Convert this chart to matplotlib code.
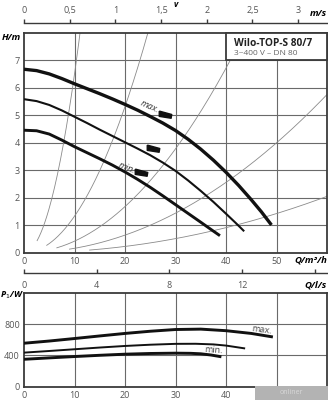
import numpy as np
import matplotlib
matplotlib.use("Agg")
import matplotlib.pyplot as plt
from matplotlib.patches import Rectangle

plt.rcParams['font.family'] = ['Open Sans', 'DejaVu Sans']

# ---------------- data ----------------
# pump curves H(Q)
q_max = [0, 2.5, 5, 7.5, 10, 12.5, 15, 17.5, 20, 22.5, 25, 27.5, 30, 32.5, 35,
         37.5, 40, 42.5, 45, 47, 49]
h_max = [6.68, 6.63, 6.51, 6.34, 6.15, 5.97, 5.79, 5.60, 5.40, 5.19, 4.96, 4.72,
         4.45, 4.13, 3.77, 3.37, 2.93, 2.45, 1.93, 1.49, 1.01]
q_mid = [0, 2.5, 5, 7.5, 10, 12.5, 15, 17.5, 20, 22.5, 25, 27.5, 30, 32.5, 35,
         37.5, 40, 42, 43.6]
h_mid = [5.59, 5.52, 5.38, 5.18, 4.95, 4.72, 4.48, 4.25, 4.02, 3.79, 3.55, 3.28,
         2.98, 2.63, 2.25, 1.85, 1.42, 1.07, 0.78]
q_min = [0, 2.5, 5, 7.5, 10, 12.5, 15, 17.5, 20, 22.5, 25, 27.5, 30, 32.5, 35,
         37, 38.8]
h_min = [4.46, 4.44, 4.32, 4.10, 3.86, 3.64, 3.42, 3.19, 2.94, 2.67, 2.38, 2.07,
         1.75, 1.43, 1.11, 0.85, 0.62]

# power curves P1(Q)
pq_max = [0, 5, 10, 15, 20, 25, 30, 35, 40, 45, 49]
p_max = [555, 583, 615, 648, 680, 708, 730, 735, 715, 680, 638]
pq_mid = [0, 5, 10, 15, 20, 25, 30, 34, 37.5, 40, 43.6]
p_mid = [435, 456, 478, 500, 520, 536, 547, 548, 540, 525, 490]
pq_min = [0, 5, 10, 15, 20, 25, 30, 33, 35, 37, 38.8]
p_min = [350, 368, 385, 401, 415, 424, 428, 426, 420, 405, 385]

# thin system curves H = k*Q^2 (k and starting flow)
sys_k = [0.065, 0.0133, 0.0042, 0.0016, 0.00057]
sys_q0 = [2.6, 4.5, 6.5, 9.0, 13.0]

# speed-setting markers
mark_q = [27.9, 25.5, 23.2]
mark_h = [5.05, 3.80, 2.95]

q_ticks = [0, 10, 20, 30, 40, 50]
p_q_ticks = [0, 10, 20, 30, 40]
h_ticks = [0, 1, 2, 3, 4, 5, 6, 7]
p_ticks = [0, 400, 800]
v_ticks = [0, 0.5, 1, 1.5, 2, 2.5, 3]
v_labels = ['0', '0,5', '1', '1,5', '2', '2,5', '3']
ls_ticks = [0, 4, 8, 12, 16]
ls_labels = ['0', '4', '8', '12', '']

title1 = 'Wilo-TOP-S 80/7'
title2 = '3~400 V – DN 80'

# ---------------- figure ----------------
W_PX, H_PX = 328, 400
fig = plt.figure(figsize=(W_PX / 100, H_PX / 100), dpi=100)

def fx(px):
    return px / W_PX

def fy(py):
    return 1 - py / H_PX

L = fx(24)
WID = fx(303)
ax = fig.add_axes([L, fy(252.7), WID, (252.7 - 33) / H_PX])
ax2 = fig.add_axes([L, fy(386.7), WID, (386.7 - 292.7) / H_PX])

GRID = '#6a6a6a'
SPINE = '#3a3a3a'
TICKC = '#555555'
FS = 6.5

for a in (ax, ax2):
    a.set_xlim(0, 60)
    for s in a.spines.values():
        s.set_color(SPINE)
        s.set_linewidth(1.3)
    a.tick_params(length=0, labelsize=FS, colors=TICKC, pad=3)

ax.set_xticks(q_ticks)
ax2.set_xticks(p_q_ticks)

ax.set_ylim(0, 8)
ax.set_yticks(h_ticks)
for yv in h_ticks[1:]:
    ax.axhline(yv, color=GRID, lw=0.8, zorder=1)
for xv in q_ticks[1:]:
    ax.axvline(xv, color=GRID, lw=0.8, zorder=1)

ax2.set_ylim(0, 1200)
ax2.set_yticks(p_ticks)
for yv in p_ticks[1:]:
    ax2.axhline(yv, color=GRID, lw=0.8, zorder=1)
for xv in q_ticks[1:]:
    ax2.axvline(xv, color=GRID, lw=0.8, zorder=1)

# system curves
for k, q0 in zip(sys_k, sys_q0):
    qq = np.linspace(q0, 60, 300)
    ax.plot(qq, k * qq ** 2, color='#8a8a8a', lw=0.6, zorder=2)

# pump curves
ax.plot(q_max, h_max, color='#111111', lw=2.4, zorder=4, solid_capstyle='butt',
        solid_joinstyle='round')
ax.plot(q_mid, h_mid, color='#111111', lw=1.5, zorder=4, solid_capstyle='butt',
        solid_joinstyle='round')
ax.plot(q_min, h_min, color='#111111', lw=2.1, zorder=4, solid_capstyle='butt',
        solid_joinstyle='round')

flag = [(-1, 0.55), (1, 0.0), (0.9, -0.6), (-1, -0.3), (-1, 0.55)]
ax.plot(mark_q, mark_h, linestyle='none', marker=flag, markersize=9,
        color='#111111', markeredgecolor='#111111', zorder=6)

ax.text(24.9, 5.3, 'max.', fontsize=6.5, color='#333333', rotation=-24,
        ha='center', va='center', rotation_mode='anchor', style='italic', zorder=5)
ax.text(20.3, 3.1, 'min.', fontsize=6.5, color='#333333', rotation=-22,
        ha='center', va='center', rotation_mode='anchor', style='italic', zorder=5)

# info box
ax.add_patch(Rectangle((40, 7), 20, 1, facecolor='white', edgecolor=SPINE,
                       lw=1.3, zorder=7, clip_on=False))
ax.text(41.5, 7.63, title1, fontsize=7.3, fontweight='bold', color='#222222',
        ha='left', va='center', zorder=8)
ax.text(41.5, 7.25, title2, fontsize=6, color='#666666',
        ha='left', va='center', zorder=8)

# power curves
ax2.plot(pq_max, p_max, color='#111111', lw=2.1, zorder=4, solid_joinstyle='round')
ax2.plot(pq_mid, p_mid, color='#111111', lw=1.4, zorder=4, solid_joinstyle='round')
ax2.plot(pq_min, p_min, color='#111111', lw=2.1, zorder=4, solid_joinstyle='round')
ax2.text(47.0, 728, 'max.', fontsize=6.5, color='#444444', ha='center',
         va='center', rotation=-8, zorder=5)
ax2.text(37.5, 470, 'min.', fontsize=6.5, color='#444444', ha='center',
         va='center', rotation=-4, zorder=5)

# axis labels
fig.text(fx(2), fy(37), 'H/m', fontsize=6.8, fontweight='bold', style='italic',
         ha='left', va='center')
fig.text(fx(0.5), fy(295), 'P$_1$/W', fontsize=6.4, fontweight='bold', style='italic',
         ha='left', va='center')
fig.text(fx(327), fy(260), 'Q/m³/h', fontsize=6.8, fontweight='bold', style='italic',
         ha='right', va='center')

# velocity scale
def q2v(q):
    return np.asarray(q) / 3600 / (np.pi * 0.08 ** 2 / 4)

axv = fig.add_axes([L, fy(22.7), WID, 1e-4])
axv.set_xlim(0, float(q2v(60)))
axv.set_ylim(0, 1)
for name, s in axv.spines.items():
    s.set_visible(name == 'bottom')
    s.set_color(SPINE)
    s.set_linewidth(1.0)
axv.set_yticks([])
axv.set_xticks(v_ticks)
axv.set_xticklabels(v_labels)
axv.xaxis.set_ticks_position('top')
axv.tick_params(axis='x', direction='out', length=3, width=1.0, color=SPINE,
                labelsize=FS, labelcolor=TICKC, pad=2.5, labeltop=True, labelbottom=False)
axv.patch.set_visible(False)
fig.text(fx(327), fy(13), 'm/s', fontsize=6.8, fontweight='bold', style='italic',
         ha='right', va='center')
fig.text(fx(176), fy(0.3), 'v', fontsize=6.0, fontweight='bold', style='italic',
         ha='center', va='top')

# l/s scale
axl = fig.add_axes([L, fy(273), WID, 1e-4])
axl.set_xlim(0, 60 / 3.6)
axl.set_ylim(0, 1)
for name, s in axl.spines.items():
    s.set_visible(name == 'bottom')
    s.set_color(SPINE)
    s.set_linewidth(1.0)
axl.set_yticks([])
axl.set_xticks(ls_ticks)
axl.set_xticklabels(ls_labels)
axl.xaxis.set_ticks_position('bottom')
axl.tick_params(axis='x', direction='in', length=3, width=1.0, color=SPINE,
                labelsize=FS, labelcolor=TICKC, pad=6.0)
axl.patch.set_visible(False)
fig.text(fx(327), fy(285), 'Q/l/s', fontsize=6.8, fontweight='bold', style='italic',
         ha='right', va='center')

# watermark band
fig.add_artist(Rectangle((fx(255), 0), fx(73), 14 / H_PX, transform=fig.transFigure,
                         facecolor='#b3b3b3', edgecolor='none', zorder=20))
fig.text(fx(291), fy(393), 'onliner', fontsize=5, color='#d8d8d8',
         ha='center', va='center', zorder=21)

fig.savefig('out.png', dpi=100)
